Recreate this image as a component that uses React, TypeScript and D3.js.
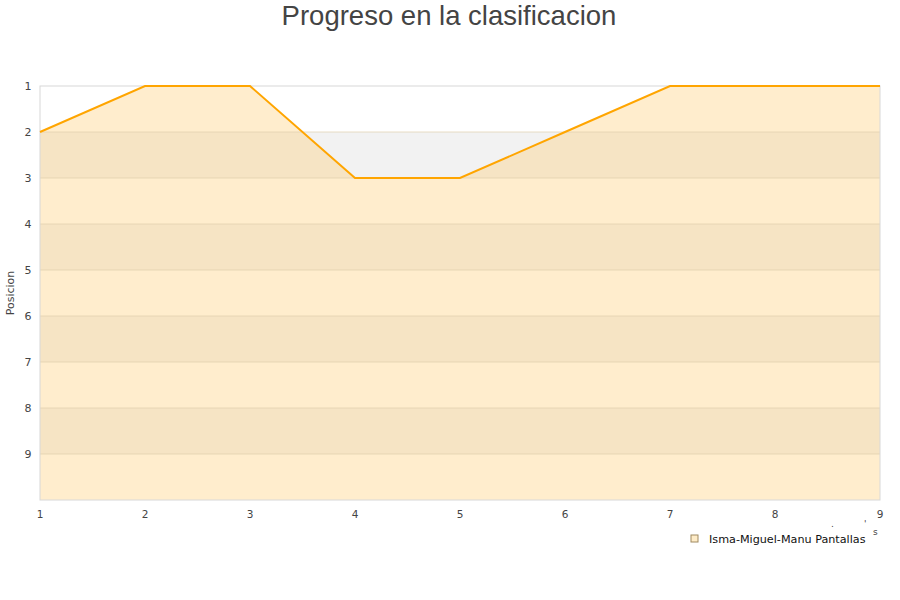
import React from "react";
import * as d3 from "d3";

const jornadas = [1, 2, 3, 4, 5, 6, 7, 8, 9];
const posiciones = [2, 1, 1, 3, 3, 2, 1, 1, 1];
const yTicks = [1, 2, 3, 4, 5, 6, 7, 8, 9];
const seriesName = "Isma-Miguel-Manu Pantallas";
const title = "Progreso en la clasificacion";

export default function App() {
  const W = 900, H = 600;
  const left = 40, right = 880, top = 86, bottom = 500;
  const x = d3.scaleLinear().domain([1, 9]).range([left, right]);
  const y = d3.scaleLinear().domain([1, 10]).range([top, bottom]);
  const data = jornadas.map((j, i) => ({ j, p: posiciones[i] }));
  const line = d3.line<{ j: number; p: number }>().x(d => x(d.j)).y(d => y(d.p));
  const area = d3.area<{ j: number; p: number }>().x(d => x(d.j)).y0(y(10)).y1(d => y(d.p));
  const bands = d3.range(1, 10);
  return (
    <svg width={W} height={H} style={{ position: "absolute", left: 0, top: 0, fontFamily: "DejaVu Sans, sans-serif" }}>
      <rect width={W} height={H} fill="#fff" />
      <text x={449} y={25} textAnchor="middle" fontFamily="Liberation Sans, Arial, sans-serif" fontSize={27.5} fill="#444">{title}</text>
      {bands.map(b => (
        <rect key={b} x={left} y={y(b)} width={right - left} height={y(b + 1) - y(b)} fill={b % 2 === 0 ? "#f2f2f2" : "#ffffff"} />
      ))}
      <path d={area(data) || ""} fill="#ffc966" fillOpacity={0.33} />
      {yTicks.slice(1).map(t => (
        <line key={t} x1={left} x2={right} y1={y(t)} y2={y(t)} stroke="#e0cfad" strokeWidth={1} opacity={0.7} />
      ))}
      <rect x={left} y={top} width={right - left} height={bottom - top} fill="none" stroke="#d8d8d8" strokeWidth={1} />
      <path d={line(data) || ""} fill="none" stroke="#ffa500" strokeWidth={2} />
      {yTicks.map(t => (
        <text key={t} x={28} y={y(t) + 4} textAnchor="middle" fontSize={11} fill="#444">{t}</text>
      ))}
      {jornadas.map(t => (
        <text key={t} x={x(t)} y={518} textAnchor="middle" fontSize={10.5} fill="#444">{t}</text>
      ))}
      <text transform="translate(14,293) rotate(-90)" textAnchor="middle" fontSize={11} fill="#444">Posicion</text>
      <text x={873} y={535} fontSize={9} fill="#444">s</text>
      <text x={831} y={527} fontSize={9} fill="#444">.</text>
      <text x={864} y={527} fontSize={9} fill="#444">'</text>
      <rect x={691} y={535} width={7} height={7} fill="#feecc8" stroke="#a08a60" strokeWidth={1} />
      <text x={709} y={543} fontSize={11.2} fill="#111">{seriesName}</text>
    </svg>
  );
}
